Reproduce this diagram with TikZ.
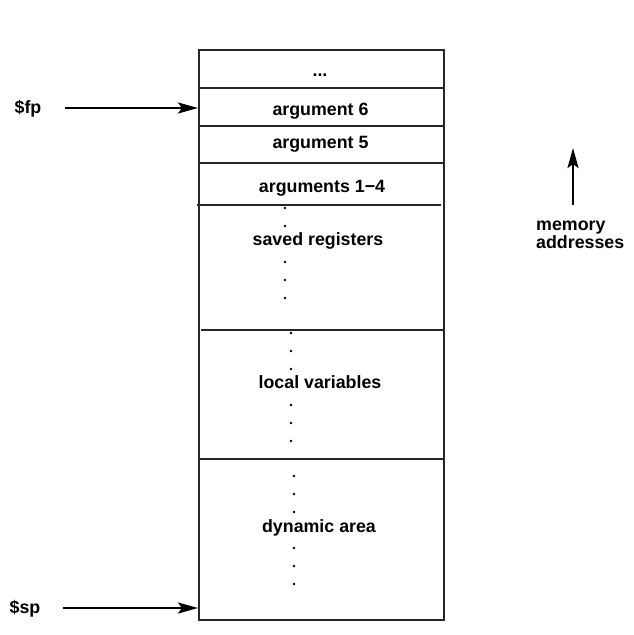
\documentclass[tikz,border=0pt]{standalone}
\usepackage{fontspec}
\setmainfont{Liberation Sans}
\usetikzlibrary{arrows.meta}
\begin{document}
\begin{tikzpicture}[x=1pt,y=-1pt,
  lbl/.style={inner sep=0pt,anchor=base,font=\bfseries\fontsize{17.8}{16}\selectfont},
  frame/.style={line width=1.3pt,draw=black!85},
  ptr/.style={line width=2.4pt,-{Stealth[length=20pt,width=11pt,inset=4pt]}},
  dotmark/.style={fill=black}
]
\useasboundingbox (0,0) rectangle (634,635);
% box
\draw[frame] (199,50) rectangle (444,620);
\draw[frame] (199,88) -- (444,88);
\draw[frame] (199,126) -- (444,126);
\draw[frame] (199,163) -- (444,163);
\draw[frame] (197,205) -- (441,205);
\draw[frame] (201,330) -- (445,330);
\draw[frame] (199,459) -- (445,459);
% coordinates on box edge
\coordinate (fpend) at (198,108);
\coordinate (spend) at (198,608);
% labels
\node[lbl] (dots) at (320,76) {...};
\node[lbl] (arg6) at (320.5,115) {argument 6};
\node[lbl] (arg5) at (320.5,148) {argument 5};
\node[lbl] (arg14) at (322,192) {arguments 1−4};
\node[lbl] (saved) at (318,245) {saved registers};
\node[lbl] (local) at (320,388) {local variables};
\node[lbl] (dyn) at (319,532) {dynamic area};
\node[lbl] (fp) at (28,113) {\$fp};
\node[lbl] (sp) at (25,613) {\$sp};
\node[lbl,anchor=base west,align=left] (mem) at (536,248) {memory\\addresses};
% dots
\foreach \y in {208,226,262,280,298} \fill[dotmark] (285,\y) circle (1.4);
\foreach \y in {333,351,369,405,423,441} \fill[dotmark] (291,\y) circle (1.4);
\foreach \y in {476,494,512,548,566,584} \fill[dotmark] (294,\y) circle (1.4);
% arrows
\coordinate (fpstart) at (65,108);
\coordinate (spstart) at (63,608);
\draw[ptr] (fpstart) -- (fpend);
\draw[ptr] (spstart) -- (spend);
\coordinate (memlow) at (573,205);
\coordinate (memhigh) at (573,148);
\draw[ptr] (memlow) -- (memhigh);
\end{tikzpicture}
\end{document}
